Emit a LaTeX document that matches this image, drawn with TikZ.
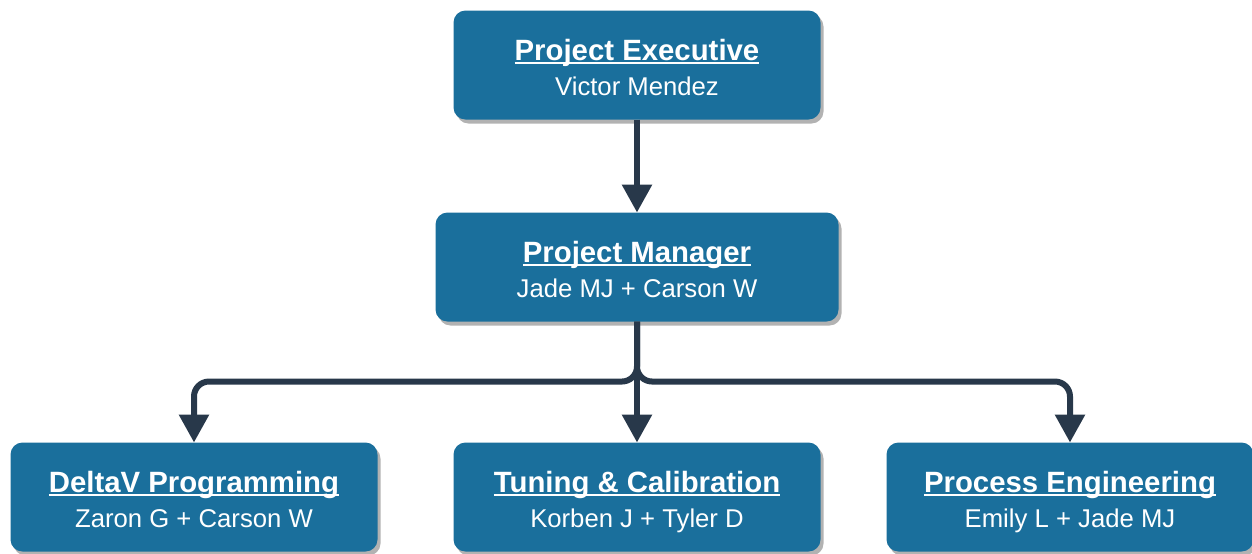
\documentclass[tikz,border=0pt]{standalone}
\usepackage{fontspec}
\setmainfont{Liberation Sans}
\usepackage{tikz}
\usetikzlibrary{arrows.meta,%
                shapes,positioning,shadows}

\definecolor{BoxBlue}{RGB}{26,111,156}
\definecolor{LinkNavy}{RGB}{40,56,74}

% bold heading with a thin rule just under the baseline
\newcommand{\ulhead}[1]{{\fontsize{8.35}{9.96}\selectfont\bfseries%
  \setbox0\hbox{#1}\rlap{\rule[-0.9pt]{\wd0}{0.45pt}}\box0\rule{0pt}{8.9pt}}}
% heading over the names, struts keep every box at the same height
\newcommand{\role}[2]{\ulhead{#1}\\#2\rule[-1.6pt]{0pt}{1pt}}

\begin{document}
\begin{tikzpicture}
  \tikzset{BoxStyle/.style = {shape          = rectangle,
                              rounded corners = 0.12cm,
                              fill           = BoxBlue,
                              text           = white,
                              align          = center,
                              inner sep      = 0pt,
                              outer sep      = 0pt,
                              minimum width  = 3.67cm,
                              minimum height = 1.09cm,
                              font           = \fontsize{7.31}{9.96}\selectfont,
                              drop shadow    = {shadow xshift=0.03cm, shadow yshift=-0.04cm,
                                                fill=black, opacity=0.3}},
           LinkStyle/.style = {draw = LinkNavy, line width = 0.06cm,
                               rounded corners = 0.15cm,
                               -{Triangle[width=0.29cm, length=0.28cm]}}}
  \useasboundingbox (0,0) rectangle (12.52,-5.53);
	%%% TOP LEVELS %%%
	\node[BoxStyle](exec) at (6.37,-0.65) {\role{Project Executive}{Victor Mendez}};
	\node[BoxStyle, below=0.93cm of exec, minimum width=4.03cm](pm)
	  {\role{Project Manager}{Jade MJ + Carson W}};
	\draw[LinkStyle] (exec) -- (pm);
	%%% TEAMS %%%
	\node[BoxStyle, below=1.21cm of pm](tc) {\role{Tuning \& Calibration}{Korben J + Tyler D}};
	\node[BoxStyle, left=0.76cm of tc](dv) {\role{DeltaV Programming}{Zaron G + Carson W}};
	\node[BoxStyle, right=0.66cm of tc](pe) {\role{Process Engineering}{Emily L + Jade MJ}};
	%% branching
	\coordinate[below=0.6cm of pm.south](fork);
	\draw[LinkStyle] (pm.south) -- (fork) -| (dv.north);
	\draw[LinkStyle] (pm.south) -- (fork) -| (pe.north);
	\draw[LinkStyle] (pm.south) -- (tc.north);
\end{tikzpicture}
\end{document}
